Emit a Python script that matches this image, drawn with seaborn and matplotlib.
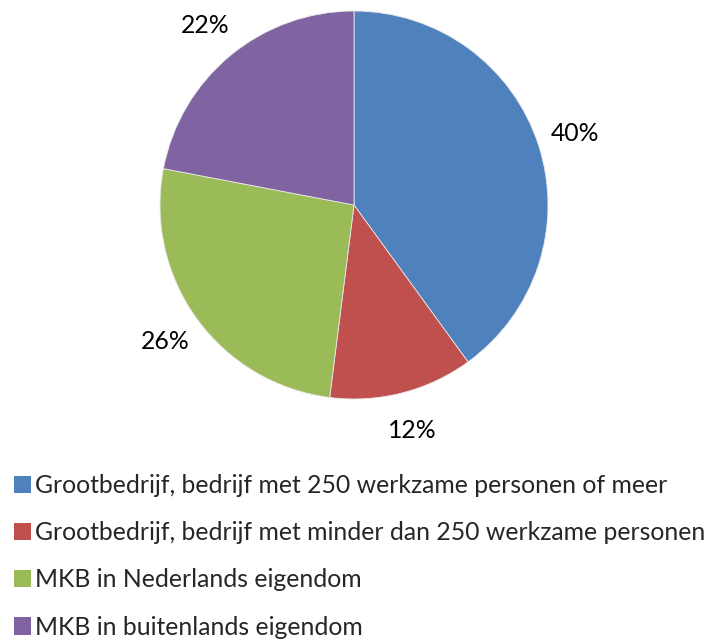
import matplotlib
matplotlib.use("Agg")
import matplotlib.pyplot as plt
import seaborn as sns

categories = [
    "Grootbedrijf, bedrijf met 250 werkzame personen of meer",
    "Grootbedrijf, bedrijf met minder dan 250 werkzame personen",
    "MKB in Nederlands eigendom",
    "MKB in buitenlands eigendom",
]
shares = [40, 12, 26, 22]
colors = ["#4F81BD", "#C0504D", "#9BBB59", "#8064A2"]

sns.set_theme(style="white")
plt.rcParams["font.family"] = ["Lato", "DejaVu Sans"]

fig = plt.figure(figsize=(7.08, 6.43), dpi=100)
W, H = 708, 643
cx, cy, r = 354, 205, 194
ax = fig.add_axes([(cx - r) / W, (H - cy - r) / H, 2 * r / W, 2 * r / H])

wedges, texts, autotexts = ax.pie(
    shares,
    colors=colors,
    startangle=90,
    counterclock=False,
    autopct="%d%%",
    pctdistance=1.2,
    wedgeprops=dict(edgecolor="#e8e8e8", linewidth=0.6),
    textprops=dict(fontsize=17.8, color="black"),
)
ax.set_xlim(-1, 1)
ax.set_ylim(-1, 1)
ax.set_aspect("equal")

leg = fig.legend(
    wedges, categories,
    loc="upper left",
    bbox_to_anchor=(14 / W, 1 - 474 / H),
    frameon=False,
    fontsize=17.8,
    handlelength=0.7,
    handleheight=0.7,
    handletextpad=0.15,
    labelspacing=0.98,
    borderpad=0,
    borderaxespad=0,
)
for h in leg.legend_handles:
    h.set_edgecolor("none")

fig.savefig("out.png", dpi=100, facecolor="white")
